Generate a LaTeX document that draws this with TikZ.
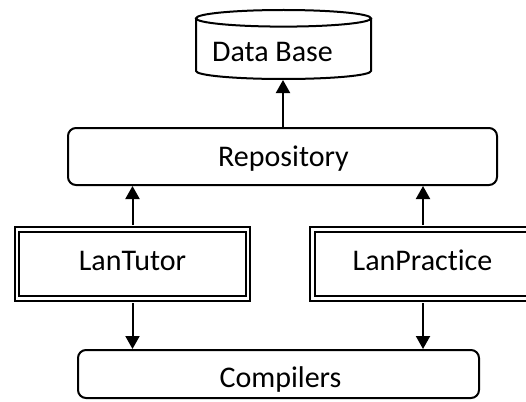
\documentclass[tikz,border=0pt]{standalone}
\usepackage{fontspec}
\setmainfont[Ligatures=NoCommon]{Carlito}
\usetikzlibrary{arrows.meta}
\begin{document}
\begin{tikzpicture}[x=1pt,y=-1pt,
  every node/.style={font=\fontsize{30}{36}\selectfont, inner sep=0pt},
  roundbox/.style={draw, line width=2pt, rounded corners=8pt},
  dblbox/.style={draw, line width=2.2pt, double, double distance=2.4pt},
  arr/.style={line width=2pt, -{Triangle[width=14pt,length=13pt]}},
  label/.style={anchor=base}
]
\useasboundingbox (0,0) rectangle (526,401);

% data base cylinder
\draw[line width=2pt] (196,18.3) -- (196,71)
  arc[start angle=180, end angle=360, x radius=87.5, y radius=-8]
  -- (371,18.3);
\draw[line width=2pt] (283.5,18.3) ellipse[x radius=87.5, y radius=8.3];
\node[label] (db) at (272.5,62) {Data Base};
\coordinate (dbb) at (283,80);

% repository
\node[roundbox, minimum width=429pt, minimum height=57pt] (repo) at (282.5,156.5) {};
\node[label] (repot) at (283.5,166) {Repository};

% tools
\node[dblbox, minimum width=231pt, minimum height=69pt] (tutor) at (132.5,264) {};
\node[label] (tutort) at (132.5,270) {LanTutor};
\node[dblbox, minimum width=221pt, minimum height=69pt] (prac) at (423,264) {};
\node[label] (pract) at (422.5,270) {LanPractice};

% compilers
\node[roundbox, minimum width=401pt, minimum height=48pt] (comp) at (278.5,374) {};
\node[label] (compt) at (280.5,387) {Compilers};

% connectors
\draw[arr] (repo.north -| dbb) -- (dbb);
\draw[arr] (tutor.north) ++(0,-3.4) coordinate (tn) -- (tn |- repo.south);
\draw[arr] (prac.north) ++(0,-3.4) coordinate (pn) -- (pn |- repo.south);
\draw[arr] (tutor.south) ++(0,3.4) coordinate (ts) -- (ts |- comp.north);
\draw[arr] (prac.south) ++(0,3.4) coordinate (ps) -- (ps |- comp.north);
\end{tikzpicture}
\end{document}
